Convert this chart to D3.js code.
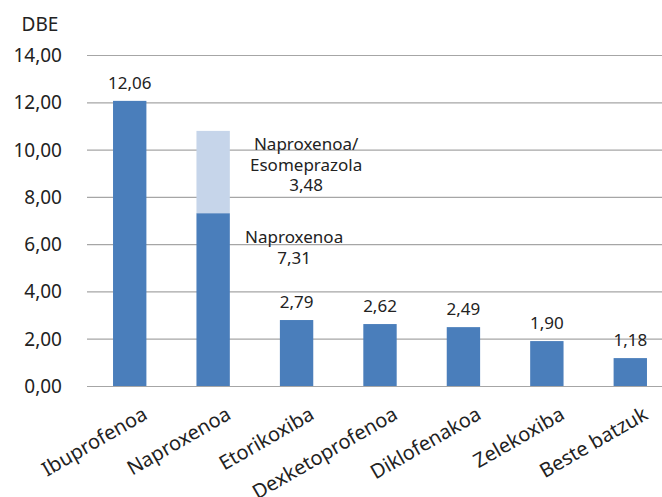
<!DOCTYPE html>
<html>
<head>
<meta charset="utf-8">
<script src="https://cdn.jsdelivr.net/npm/d3@7"></script>
<style>
  body { margin: 0; background: #fff; }
  text { font-family: "Noto Sans", Lato, sans-serif; fill: #222; }
</style>
</head>
<body>
<script>
const categories = ["Ibuprofenoa", "Naproxenoa", "Etorikoxiba", "Dexketoprofenoa", "Diklofenakoa", "Zelekoxiba", "Beste batzuk"];
const mainValues = [12.06, 7.31, 2.79, 2.62, 2.49, 1.90, 1.18];
const extraValues = [0, 3.48, 0, 0, 0, 0, 0];
const yTicks = [0, 2, 4, 6, 8, 10, 12, 14];

const width = 662, height = 497;
const fmt = v => v.toFixed(2).replace(".", ",");

const svg = d3.select("body").append("svg")
  .attr("width", width)
  .attr("height", height);

const x = d3.scaleBand()
  .domain(categories)
  .range([88, 672])
  .paddingInner(0.6)
  .paddingOuter(0.3);

const y = d3.scaleLinear()
  .domain([0, 14])
  .range([386, 55]);

// gridlines
svg.append("g")
  .selectAll("line")
  .data(yTicks)
  .enter()
  .append("line")
  .attr("x1", 87)
  .attr("x2", width)
  .attr("y1", d => y(d) + 0.5)
  .attr("y2", d => y(d) + 0.5)
  .attr("stroke", "#a6a6a6")
  .attr("stroke-width", 1.2);

// y tick labels
svg.append("g")
  .selectAll("text")
  .data(yTicks)
  .enter()
  .append("text")
  .attr("x", 62)
  .attr("y", d => y(d) + 7)
  .attr("text-anchor", "end")
  .style("font-size", "19px")
  .text(d => fmt(d));

svg.append("text")
  .attr("x", 40)
  .attr("y", 31)
  .attr("text-anchor", "middle")
  .style("font-size", "19px")
  .text("DBE");

// main bars
svg.append("g")
  .selectAll("rect")
  .data(categories)
  .enter()
  .append("rect")
  .attr("x", d => x(d))
  .attr("width", x.bandwidth())
  .attr("y", (d, i) => y(mainValues[i]))
  .attr("height", (d, i) => y(0) - y(mainValues[i]))
  .attr("fill", "#4a7ebb");

// stacked part
svg.append("g")
  .selectAll("rect")
  .data(categories.filter((d, i) => extraValues[i] > 0))
  .enter()
  .append("rect")
  .attr("x", d => x(d))
  .attr("width", x.bandwidth())
  .attr("y", d => {
    let i = categories.indexOf(d);
    return y(mainValues[i] + extraValues[i]);
  })
  .attr("height", d => {
    let i = categories.indexOf(d);
    return y(mainValues[i]) - y(mainValues[i] + extraValues[i]);
  })
  .attr("fill", "#c6d5ea");

// value labels (single bars)
svg.append("g")
  .selectAll("text")
  .data(categories.filter((d, i) => extraValues[i] === 0))
  .enter()
  .append("text")
  .attr("x", d => x(d) + x.bandwidth() / 2)
  .attr("y", d => y(mainValues[categories.indexOf(d)]) - 12)
  .attr("text-anchor", "middle")
  .style("font-size", "17px")
  .text(d => fmt(mainValues[categories.indexOf(d)]));

// stacked bar annotations
const nx = x("Naproxenoa") + x.bandwidth() / 2;
const iN = categories.indexOf("Naproxenoa");
const topLines = ["Naproxenoa/", "Esomeprazola", fmt(extraValues[iN])];
svg.append("g")
  .selectAll("text")
  .data(topLines)
  .enter()
  .append("text")
  .attr("x", nx + 93)
  .attr("y", (d, i) => 150 + i * 20.5)
  .attr("text-anchor", "middle")
  .style("font-size", "17px")
  .text(d => d);

const botLines = ["Naproxenoa", fmt(mainValues[iN])];
svg.append("g")
  .selectAll("text")
  .data(botLines)
  .enter()
  .append("text")
  .attr("x", nx + 81)
  .attr("y", (d, i) => 243 + i * 21)
  .attr("text-anchor", "middle")
  .style("font-size", "17px")
  .text(d => d);

// x labels
svg.append("g")
  .selectAll("text")
  .data(categories)
  .enter()
  .append("text")
  .attr("transform", d => "translate(" + (x(d) + x.bandwidth() / 2 + 12) + ",406) rotate(-30)")
  .attr("text-anchor", "end")
  .attr("dy", "0.7em")
  .style("font-size", "20px")
  .text(d => d);
</script>
</body>
</html>
